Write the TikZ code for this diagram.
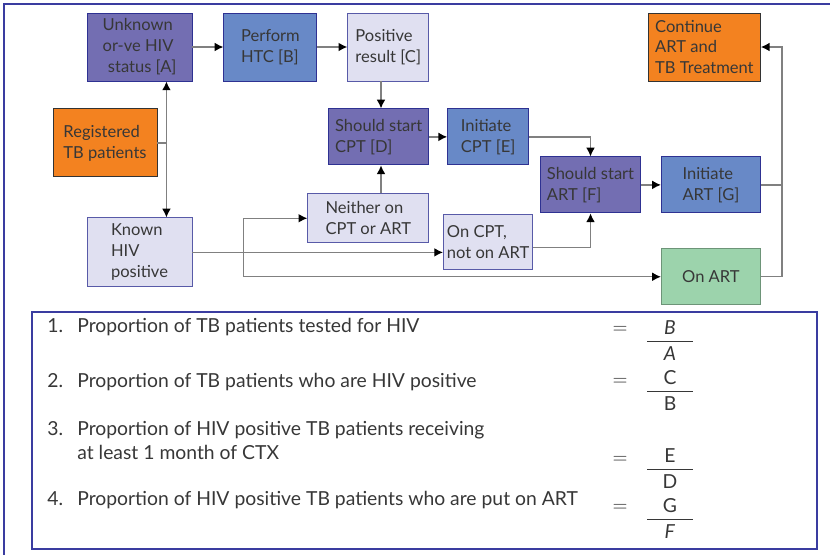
\documentclass[tikz,border=0pt]{standalone}
\usepackage{fontspec}
\setmainfont{Lato}
\usetikzlibrary{arrows.meta, positioning}
\definecolor{hivpurple}{RGB}{115,110,178}
\definecolor{hivblue}{RGB}{104,137,199}
\definecolor{hivpale}{RGB}{224,224,241}
\definecolor{hivorange}{RGB}{243,130,32}
\definecolor{hivgreen}{RGB}{156,211,172}
\definecolor{hivframe}{RGB}{58,60,160}
\definecolor{hivedge}{RGB}{46,49,146}
\definecolor{hivtext}{RGB}{55,55,55}

\begin{document}
\begin{tikzpicture}[
  box/.style={
    rectangle, draw=hivedge, line width=0.5pt,
    text=hivtext, align=left, inner sep=2pt,
    font=\fontsize{9.4}{11.9}\selectfont
  },
  purplebox/.style={box, fill=hivpurple, minimum height=1.12cm},
  bluebox/.style={box, fill=hivblue, minimum height=1.12cm},
  palebox/.style={box, fill=hivpale, draw=hivedge!80},
  orangebox/.style={box, fill=hivorange, draw=black!80, minimum height=1.36cm},
  greenbox/.style={box, fill=hivgreen, draw=hivgreen!70!black, minimum height=1.12cm},
  arrow/.style={-{Latex[length=5pt,width=5pt,black]}, line width=0.8pt, black!50},
  link/.style={line width=0.8pt, black!50},
  item/.style={anchor=west, text=hivtext, align=left, inner sep=0pt,
    font=\fontsize{11}{14.2}\selectfont},
  ratio/.style={text=hivtext, inner sep=0pt, font=\fontsize{11}{13}\selectfont}
]
\useasboundingbox (0,0) rectangle (16.6,-11.1);

% outer frame
\draw[hivframe, line width=1.1pt] (16.6,-0.08) -- (0.08,-0.08) -- (0.08,-11.1);

% top row
\node[purplebox, minimum width=2.1cm, minimum height=1.36cm] (unknown) at (2.79,-0.94)
  {Unknown\\or-ve HIV\\\hspace{3pt}status [A]};
\node[bluebox, minimum width=1.86cm, minimum height=1.36cm, right=0.62cm of unknown] (htc)
  {Perform\\HTC [B]};
\node[palebox, minimum width=1.62cm, minimum height=1.36cm, right=0.6cm of htc] (positive)
  {Positive\\result [C]};

\node[orangebox, minimum width=2.08cm, below=0.54cm of unknown, xshift=-0.69cm] (registered)
  {Registered\\TB patients};
\node[palebox, minimum width=2.1cm, minimum height=1.38cm, below=2.72cm of unknown] (known)
  {Known\\HIV\\positive};

% CPT
\node[purplebox, minimum width=2.0cm, below=0.54cm of positive, xshift=-0.19cm] (shouldcpt)
  {Should start\\CPT [D]};
\node[bluebox, minimum width=1.62cm, right=0.36cm of shouldcpt] (initcpt)
  {Initiate\\CPT [E]};
\node[palebox, minimum width=2.42cm, minimum height=0.98cm, below=0.56cm of shouldcpt, xshift=-0.21cm] (neither)
  {Neither on\\CPT or ART};
\node[palebox, minimum width=1.62cm, minimum height=1.1cm, below=0.98cm of initcpt] (oncpt)
  {On CPT,\\not on ART};

% ART
\node[purplebox, minimum width=2.0cm, right=0.22cm of initcpt, yshift=-0.96cm] (shouldart)
  {Should start\\ART [F]};
\node[bluebox, minimum width=1.98cm, right=0.4cm of shouldart] (initart)
  {Initiate\\ART [G]};
\node[greenbox, minimum width=1.98cm, below=0.7cm of initart] (onart) {On ART};
\node[orangebox, minimum width=2.24cm, above=1.5cm of initart, xshift=-0.13cm] (continue)
  {Continue\\ART and\\TB Treatment};

\coordinate (cptline) at (7.62,0);
\coordinate[right=0.18cm of registered] (split);
\coordinate[right=1.02cm of known] (branch);
\coordinate[right=0.42cm of continue] (join);

\draw[arrow] (unknown) -- (htc);
\draw[arrow] (htc) -- (positive);
\draw[arrow] (positive.south -| cptline) -- (shouldcpt.north -| cptline);
\draw[arrow] (shouldcpt) -- (initcpt);
\draw[arrow] (initcpt.east) -| (shouldart.north);
\draw[link] (registered) -- (split);
\draw[arrow] (split) -- (split |- unknown.south);
\draw[arrow] (split) -- (split |- known.north);
\draw[arrow] (neither.north -| cptline) -- (shouldcpt.south -| cptline);
\draw[arrow] (known.east) -- (known.east -| oncpt.west);
\draw[arrow] (branch) |- (neither);
\draw[arrow] (branch) |- (onart);
\draw[arrow] ([yshift=-0.11cm]oncpt.east) -| (shouldart.south);
\draw[arrow] (shouldart) -- (initart);
\draw[link] (initart.east) -- (initart.east -| join);
\draw[arrow] (onart.east) -| (join) -- (continue);

% indicators
\node[draw=hivframe, line width=1pt, minimum width=15.7cm, minimum height=4.74cm] (summary) at (8.49,-8.61) {};

\node[item] (item1) at (0.94,-6.54)
  {\makebox[0.6cm][l]{1.}Proportion of TB patients tested for HIV};
\node[item] (item2) at (0.94,-7.64)
  {\makebox[0.6cm][l]{2.}Proportion of TB patients who are HIV positive};
\node[item] (item3) at (0.94,-8.81)
  {\makebox[0.6cm][l]{3.}Proportion of HIV positive TB patients receiving\\
   \hspace*{0.6cm}at least 1 month of CTX};
\node[item] (item4) at (0.94,-10.0)
  {\makebox[0.6cm][l]{4.}Proportion of HIV positive TB patients who are put on ART};

\node[ratio] (eq1) at (12.4,-6.6) {$=$};
\node[ratio] (eq2) at (12.4,-7.64) {$=$};
\node[ratio] (eq3) at (12.4,-9.2) {$=$};
\node[ratio] (eq4) at (12.4,-10.16) {$=$};

\node[ratio] (frac1) at (13.4,-6.86)
  {\begin{tabular}{@{}c@{}}\makebox[0.92cm]{\textit{B}}\\\hline\rule{0pt}{10.7pt}\textit{A}\end{tabular}};
\node[ratio] (frac2) at (13.4,-7.86)
  {\begin{tabular}{@{}c@{}}\makebox[0.92cm]{C}\\\hline\rule{0pt}{10.7pt}B\end{tabular}};
\node[ratio] (frac3) at (13.4,-9.42)
  {\begin{tabular}{@{}c@{}}\makebox[0.92cm]{E}\\\hline\rule{0pt}{10.7pt}D\end{tabular}};
\node[ratio] (frac4) at (13.4,-10.42)
  {\begin{tabular}{@{}c@{}}\makebox[0.92cm]{G}\\\hline\rule{0pt}{10.7pt}\textit{F}\end{tabular}};

\end{tikzpicture}
\end{document}
